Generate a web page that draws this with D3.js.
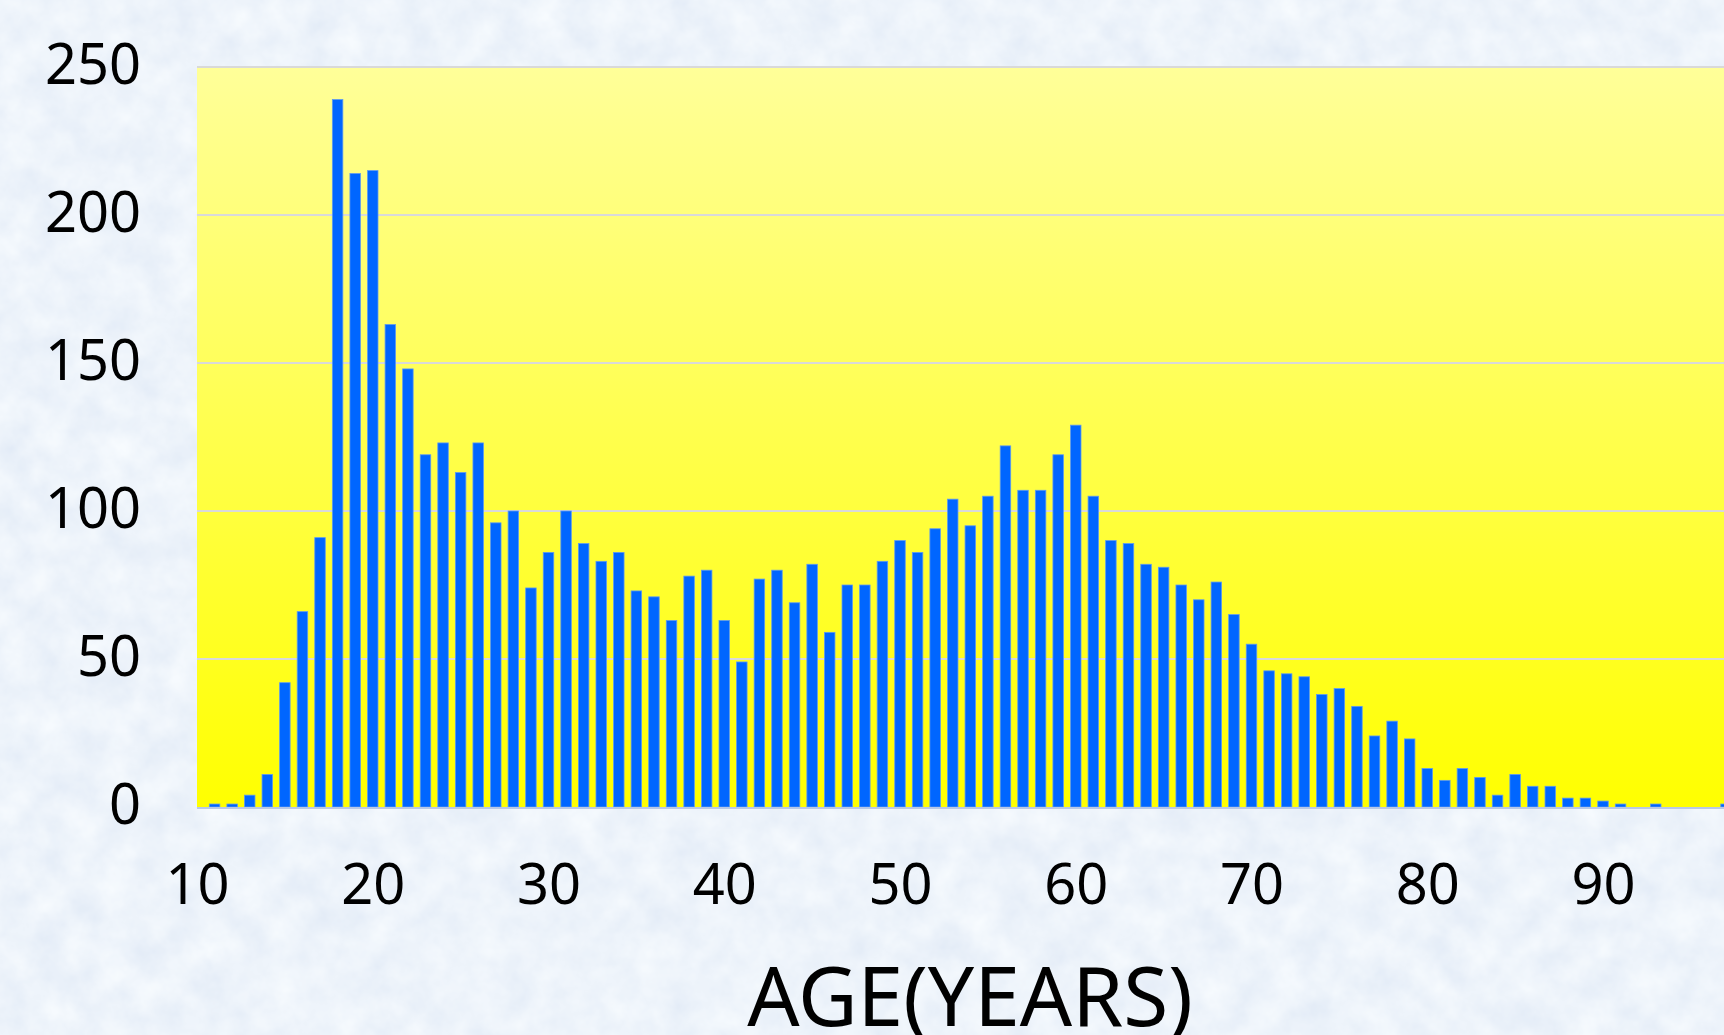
<!DOCTYPE html>
<html>
<head>
<meta charset="utf-8">
<script src="https://d3js.org/d3.v7.min.js"></script>
<style>
  html, body { margin: 0; padding: 0; overflow: hidden; background: #dbe8f6; }
  text { font-family: "Noto Sans", "Open Sans", sans-serif; fill: #000; }
</style>
</head>
<body>
<div id="chart"></div>
<script>
// ages and number of patients per age
var ages = [11, 12, 13, 14, 15, 16, 17, 18, 19, 20,
            21, 22, 23, 24, 25, 26, 27, 28, 29, 30,
            31, 32, 33, 34, 35, 36, 37, 38, 39, 40,
            41, 42, 43, 44, 45, 46, 47, 48, 49, 50,
            51, 52, 53, 54, 55, 56, 57, 58, 59, 60,
            61, 62, 63, 64, 65, 66, 67, 68, 69, 70,
            71, 72, 73, 74, 75, 76, 77, 78, 79, 80,
            81, 82, 83, 84, 85, 86, 87, 88, 89, 90,
            91, 92, 93, 94, 95, 96, 97];
var counts = [1, 1, 4, 11, 42, 66, 91, 239, 214, 215,
              163, 148, 119, 123, 113, 123, 96, 100, 74, 86,
              100, 89, 83, 86, 73, 71, 63, 78, 80, 63,
              49, 77, 80, 69, 82, 59, 75, 75, 83, 90,
              86, 94, 104, 95, 105, 122, 107, 107, 119, 129,
              105, 90, 89, 82, 81, 75, 70, 76, 65, 55,
              46, 45, 44, 38, 40, 34, 24, 29, 23, 13,
              9, 13, 10, 4, 11, 7, 7, 3, 3, 2,
              1, 0, 1, 0, 0, 0, 1];
var yTicks = [0, 50, 100, 150, 200, 250];
var xTicks = [10, 20, 30, 40, 50, 60, 70, 80, 90];
var xTitle = 'AGE(YEARS)';

var width = 1724,
    height = 1035,
    margin = {top: 67, left: 197, bottom: 228};

var svg = d3.select('#chart').append('svg')
    .attr('width', width)
    .attr('height', height);

var defs = svg.append('defs');

// light blue tissue-paper look of the slide background
var paper = defs.append('filter')
    .attr('id', 'paper')
    .attr('x', 0).attr('y', 0).attr('width', '100%').attr('height', '100%');
paper.append('feTurbulence')
    .attr('type', 'fractalNoise')
    .attr('baseFrequency', 0.03)
    .attr('numOctaves', 4)
    .attr('seed', 7)
    .attr('result', 'noise');
paper.append('feColorMatrix')
    .attr('in', 'noise')
    .attr('type', 'matrix')
    .attr('values', '0.2 0 0 0 0.75  0.16 0 0 0 0.82  0.08 0 0 0 0.92  0 0 0 0 1');

var grad = defs.append('linearGradient')
    .attr('id', 'plotfill')
    .attr('x1', 0).attr('y1', 0).attr('x2', 0).attr('y2', 1);
grad.append('stop').attr('offset', '0%').attr('stop-color', '#ffff99');
grad.append('stop').attr('offset', '100%').attr('stop-color', '#ffff00');

svg.append('rect')
    .attr('width', width)
    .attr('height', height)
    .attr('filter', 'url(#paper)');

var x = d3.scaleLinear()
    .domain([10, 98])
    .range([margin.left, margin.left + 88 * 17.575]);

var y = d3.scaleLinear()
    .domain([0, 250])
    .range([height - margin.bottom, margin.top]);

var barW = 10.5;

// plot area
svg.append('rect')
    .attr('x', x(10))
    .attr('y', y(250))
    .attr('width', x(98) - x(10))
    .attr('height', y(0) - y(250))
    .attr('fill', 'url(#plotfill)');

svg.append('g')
    .attr('class', 'grid')
  .selectAll('line')
  .data(yTicks.slice(1))
  .enter().append('line')
    .attr('x1', x(10))
    .attr('x2', x(98))
    .attr('y1', function(d) { return y(d); })
    .attr('y2', function(d) { return y(d); })
    .attr('stroke', '#d9d9d9')
    .attr('stroke-width', 2);

var bars = ages.map(function(a, i) { return {age: a, n: counts[i]}; })
    .filter(function(d) { return d.n > 0; });

svg.append('g')
    .attr('class', 'bars')
  .selectAll('rect')
  .data(bars)
  .enter().append('rect')
    .attr('x', function(d) { return x(d.age) - barW / 2; })
    .attr('y', function(d) { return y(d.n); })
    .attr('width', barW)
    .attr('height', function(d) { return y(0) - y(d.n); })
    .attr('fill', '#0066ff')
    .attr('stroke', '#5f9af0')
    .attr('stroke-width', 0.8);

// baseline
svg.append('line')
    .attr('x1', x(10))
    .attr('x2', x(98))
    .attr('y1', y(0) + 1)
    .attr('y2', y(0) + 1)
    .attr('stroke', '#b9c9e6')
    .attr('stroke-width', 2);

var yAxis = d3.axisLeft(y).tickValues(yTicks).tickSize(0).tickPadding(56);
svg.append('g')
    .attr('transform', 'translate(' + margin.left + ',0)')
    .call(yAxis)
    .call(function(g) { g.select('.domain').remove(); })
  .selectAll('text')
    .attr('font-size', 56)
    .attr('dy', '0.3em')
    .style('font-family', '"Noto Sans", sans-serif');

var xAxis = d3.axisBottom(x).tickValues(xTicks).tickSize(0).tickPadding(0);
svg.append('g')
    .attr('transform', 'translate(0,' + y(0) + ')')
    .call(xAxis)
    .call(function(g) { g.select('.domain').remove(); })
  .selectAll('text')
    .attr('font-size', 56)
    .attr('y', 97)
    .attr('dy', 0)
    .style('font-family', '"Noto Sans", sans-serif');

svg.append('text')
    .attr('x', 970)
    .attr('y', 1026)
    .attr('text-anchor', 'middle')
    .attr('font-size', 82)
    .text(xTitle);
</script>
</body>
</html>
